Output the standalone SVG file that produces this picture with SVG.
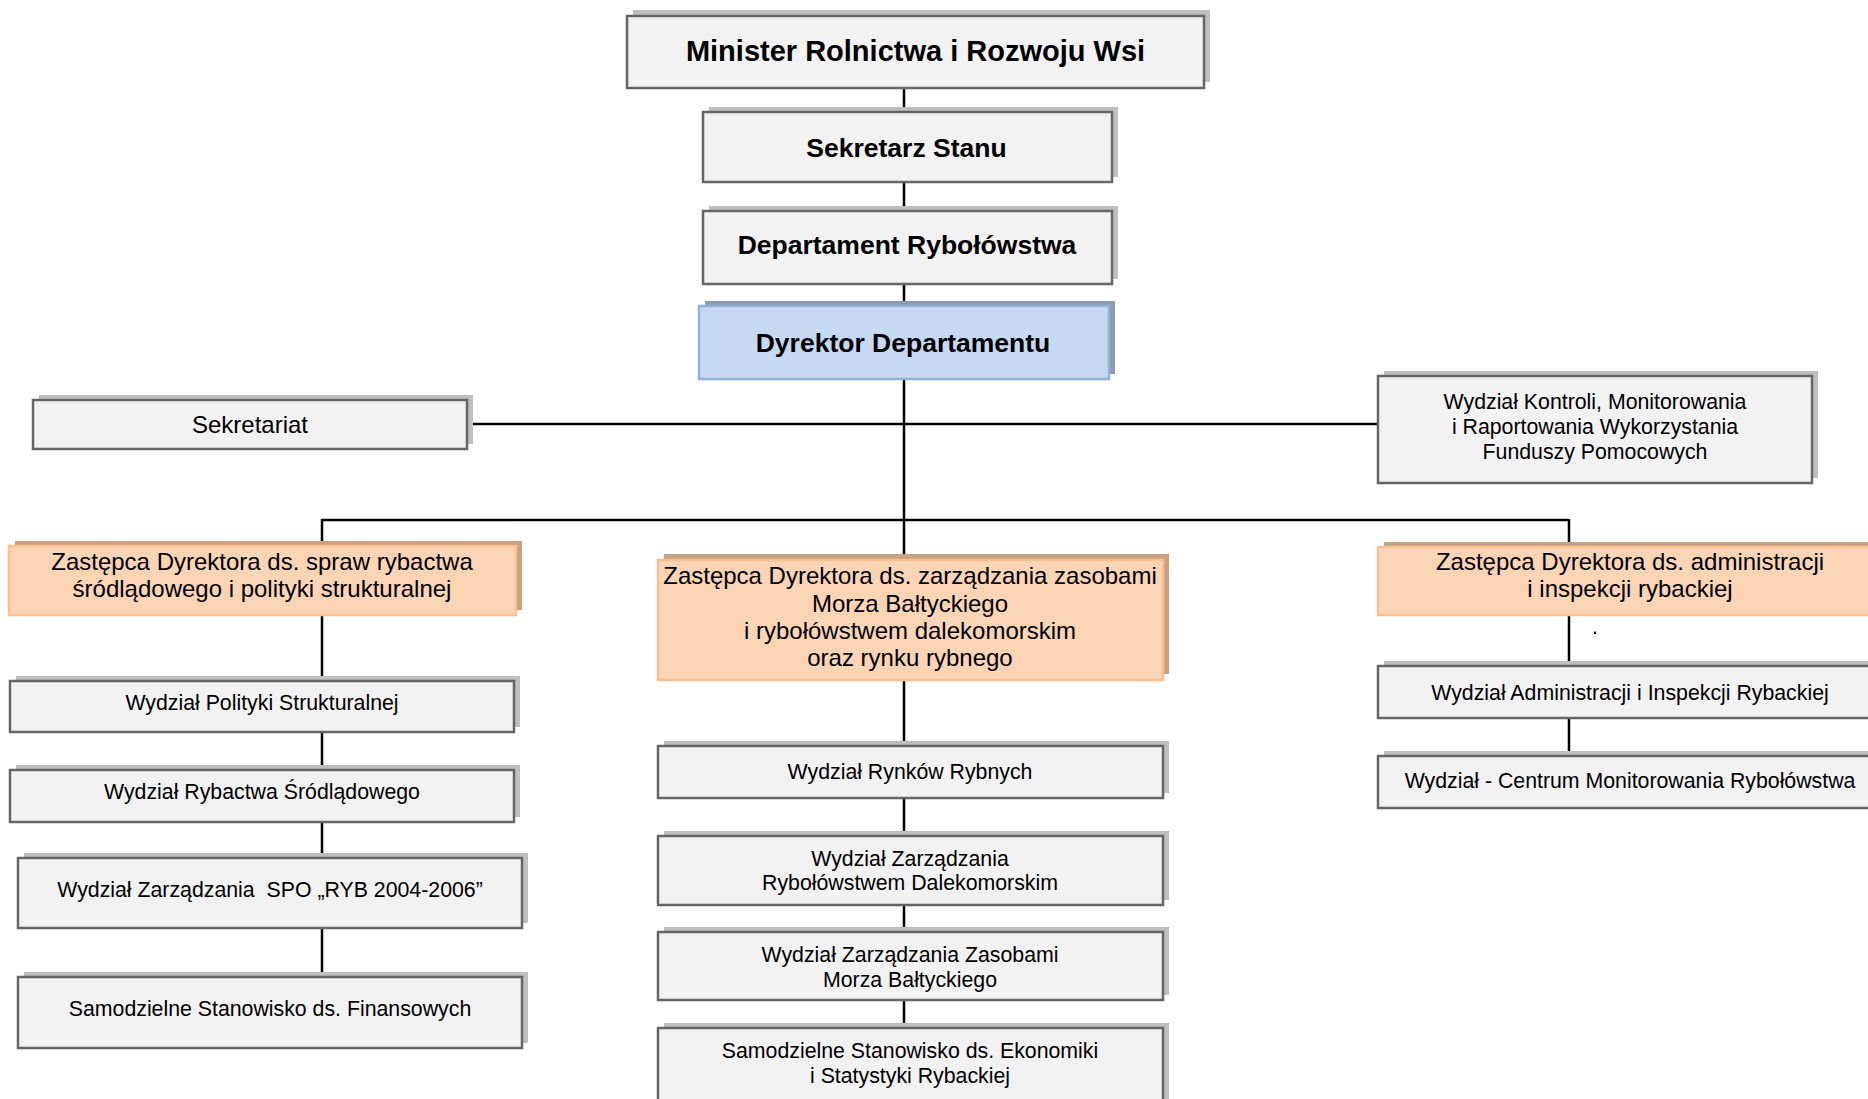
<svg xmlns="http://www.w3.org/2000/svg" width="1868" height="1099" viewBox="0 0 1868 1099">
<style>
.sh{fill:#bfbfbf}
.box{fill:#f2f2f2;stroke:#666666;stroke-width:2.5}
.osh{fill:#c9a283}
.or{fill:#fbd4b4;stroke:#fac090;stroke-width:2.5}
.bsh{fill:#8e9cb1}
.bl{fill:#c6d9f1;stroke:#95b3d7;stroke-width:2.5}
text{font-family:"Liberation Sans",Arial,Helvetica,sans-serif;fill:#000;text-anchor:middle}
.t{font-size:21.3px}
.tz{font-size:24px}
.tb{font-size:26.5px;font-weight:bold}
.con line{stroke:#000;stroke-width:2.5}
</style>
<rect width="1868" height="1099" fill="#ffffff"/>
<g id="connectors" class="con">
<line x1="904" y1="88" x2="904" y2="112"/>
<line x1="904" y1="182" x2="904" y2="211"/>
<line x1="904" y1="284" x2="904" y2="306"/>
<line x1="904" y1="379" x2="904" y2="560"/>
<line x1="467" y1="424" x2="1378" y2="424"/>
<line x1="322" y1="520" x2="1569" y2="520"/>
<line x1="322" y1="519" x2="322" y2="546"/>
<line x1="1569" y1="519" x2="1569" y2="547"/>
<line x1="322" y1="615" x2="322" y2="681"/>
<line x1="322" y1="732" x2="322" y2="770"/>
<line x1="322" y1="822" x2="322" y2="858"/>
<line x1="322" y1="928" x2="322" y2="977"/>
<line x1="904" y1="680" x2="904" y2="746"/>
<line x1="904" y1="798" x2="904" y2="836"/>
<line x1="904" y1="905" x2="904" y2="932"/>
<line x1="904" y1="1000" x2="904" y2="1028"/>
<line x1="1569" y1="615" x2="1569" y2="666"/>
<line x1="1569" y1="718" x2="1569" y2="756"/>
</g>
<g id="minister">
<rect class="sh" x="633" y="10" width="577" height="72"/>
<rect class="box" x="627" y="16" width="577" height="72"/>
<text class="tb" x="915.5" y="61" style="font-size:29px">Minister Rolnictwa i Rozwoju Wsi</text>
</g>
<g id="sekretarz">
<rect class="sh" x="709" y="107" width="409" height="70"/>
<rect class="box" x="703" y="112" width="409" height="70"/>
<text class="tb" x="906.5" y="157">Sekretarz Stanu</text>
</g>
<g id="departament">
<rect class="sh" x="709" y="206" width="409" height="73"/>
<rect class="box" x="703" y="211" width="409" height="73"/>
<text class="tb" x="907" y="254">Departament Rybołówstwa</text>
</g>
<g id="dyrektor">
<rect class="bsh" x="705" y="301" width="410" height="73"/>
<rect class="bl" x="699" y="306" width="410" height="73"/>
<text class="tb" x="903" y="352">Dyrektor Departamentu</text>
</g>
<g id="sekretariat">
<rect class="sh" x="39" y="395" width="434" height="49"/>
<rect class="box" x="33" y="400" width="434" height="49"/>
<text class="tz" x="250" y="433">Sekretariat</text>
</g>
<g id="wydzial-kontroli">
<rect class="sh" x="1384" y="371" width="434" height="107"/>
<rect class="box" x="1378" y="376" width="434" height="107"/>
<text class="t" x="1595" y="409">Wydział Kontroli, Monitorowania</text>
<text class="t" x="1595" y="434">i Raportowania Wykorzystania</text>
<text class="t" x="1595" y="459">Funduszy Pomocowych</text>
</g>
<g id="zastepca-srodladowy">
<rect class="osh" x="15" y="541" width="507" height="69"/>
<rect class="or" x="9" y="546" width="507" height="69"/>
<text class="tz" x="262" y="570">Zastępca Dyrektora ds. spraw rybactwa</text>
<text class="tz" x="262" y="597">śródlądowego i polityki strukturalnej</text>
</g>
<g id="zastepca-baltyk">
<rect class="osh" x="664" y="554" width="505" height="120"/>
<rect class="or" x="658" y="560" width="505" height="120"/>
<text class="tz" x="910" y="584">Zastępca Dyrektora ds. zarządzania zasobami</text>
<text class="tz" x="910" y="611.5">Morza Bałtyckiego</text>
<text class="tz" x="910" y="639">i rybołówstwem dalekomorskim</text>
<text class="tz" x="910" y="666">oraz rynku rybnego</text>
</g>
<g id="zastepca-administracja">
<rect class="osh" x="1384" y="542" width="520" height="68"/>
<rect class="or" x="1378" y="547" width="520" height="68"/>
<text class="tz" x="1630" y="570">Zastępca Dyrektora ds. administracji</text>
<text class="tz" x="1630" y="597">i inspekcji rybackiej</text>
<text class="t" x="1595" y="634">.</text>
</g>
<g id="wydzial-polityki">
<rect class="sh" x="16" y="676" width="504" height="51"/>
<rect class="box" x="10" y="681" width="504" height="51"/>
<text class="t" x="262" y="710">Wydział Polityki Strukturalnej</text>
</g>
<g id="wydzial-rybactwa">
<rect class="sh" x="16" y="765" width="504" height="52"/>
<rect class="box" x="10" y="770" width="504" height="52"/>
<text class="t" x="262" y="799">Wydział Rybactwa Śródlądowego</text>
</g>
<g id="wydzial-spo">
<rect class="sh" x="24" y="853" width="504" height="70"/>
<rect class="box" x="18" y="858" width="504" height="70"/>
<text class="t" x="270" y="897" xml:space="preserve">Wydział Zarządzania  SPO „RYB 2004-2006”</text>
</g>
<g id="stanowisko-finansowe">
<rect class="sh" x="24" y="972" width="504" height="71"/>
<rect class="box" x="18" y="977" width="504" height="71"/>
<text class="t" x="270" y="1016">Samodzielne Stanowisko ds. Finansowych</text>
</g>
<g id="wydzial-rynkow">
<rect class="sh" x="664" y="741" width="505" height="52"/>
<rect class="box" x="658" y="746" width="505" height="52"/>
<text class="t" x="910" y="779">Wydział Rynków Rybnych</text>
</g>
<g id="wydzial-dalekomorski">
<rect class="sh" x="664" y="831" width="505" height="69"/>
<rect class="box" x="658" y="836" width="505" height="69"/>
<text class="t" x="910" y="865.5">Wydział Zarządzania</text>
<text class="t" x="910" y="890">Rybołówstwem Dalekomorskim</text>
</g>
<g id="wydzial-zasobow">
<rect class="sh" x="664" y="927" width="505" height="68"/>
<rect class="box" x="658" y="932" width="505" height="68"/>
<text class="t" x="910" y="962">Wydział Zarządzania Zasobami</text>
<text class="t" x="910" y="987">Morza Bałtyckiego</text>
</g>
<g id="stanowisko-ekonomiki">
<rect class="sh" x="664" y="1023" width="505" height="100"/>
<rect class="box" x="658" y="1028" width="505" height="100"/>
<text class="t" x="910" y="1058">Samodzielne Stanowisko ds. Ekonomiki</text>
<text class="t" x="910" y="1083">i Statystyki Rybackiej</text>
</g>
<g id="wydzial-administracji">
<rect class="sh" x="1384" y="661" width="520" height="52"/>
<rect class="box" x="1378" y="666" width="520" height="52"/>
<text class="t" x="1630" y="700">Wydział Administracji i Inspekcji Rybackiej</text>
</g>
<g id="wydzial-centrum">
<rect class="sh" x="1384" y="751" width="520" height="52"/>
<rect class="box" x="1378" y="756" width="520" height="52"/>
<text class="t" x="1630" y="788">Wydział - Centrum Monitorowania Rybołówstwa</text>
</g>
</svg>
